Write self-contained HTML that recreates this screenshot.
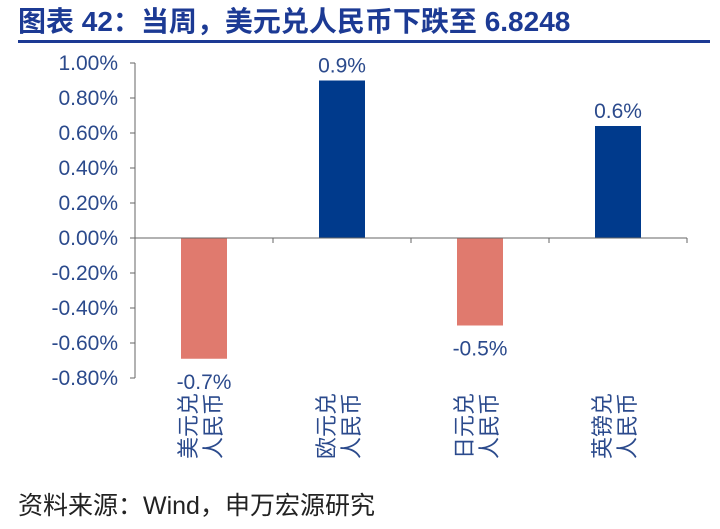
<!DOCTYPE html>
<html><head><meta charset="utf-8"><style>
body{margin:0;width:720px;height:529px;background:#fff;overflow:hidden;font-family:"Liberation Sans","Noto Sans CJK SC",sans-serif;}
</style></head><body>
<svg width="720" height="529" style="position:absolute;left:0;top:0">
<text x="18" y="31" font-size="28" font-weight="bold" fill="#1c3a94" font-family="Liberation Sans, Noto Sans CJK SC, sans-serif">图表 42：当周，美元兑人民币下跌至 6.8248</text>
<rect x="18" y="40" width="692" height="3" fill="#1c3a94"/>
<g id="plot"></g>
<text x="18" y="514" font-size="25" fill="#222">资料来源：Wind，申万宏源研究</text>
</svg>
<script>
const categories=[["美元兑","人民币"],["欧元兑","人民币"],["日元兑","人民币"],["英镑兑","人民币"]];
const values=[-0.69,0.9,-0.5,0.64];
const valueLabels=["-0.7%","0.9%","-0.5%","0.6%"];
const ticks=[1.0,0.8,0.6,0.4,0.2,0,-0.2,-0.4,-0.6,-0.8];
const NS="http://www.w3.org/2000/svg";
const g=document.getElementById('plot');
const x0=135,x1=687,yZero=238,pxPer=175;
const y=v=>yZero-v*pxPer;
const band=(x1-x0)/categories.length;
const cx=i=>x0+band*(i+0.5);
function mk(t,a){const e=document.createElementNS(NS,t);for(const k in a)e.setAttribute(k,a[k]);g.appendChild(e);return e;}
let ax=mk('line',{x1:x0,y1:y(1),x2:x0,y2:y(-0.8),stroke:'#666','stroke-width':1});


ticks.forEach(t=>{
 let tk=mk('line',{x1:x0-5,y1:y(t),x2:x0,y2:y(t),stroke:'#666'});
 
 
 let tl=mk('text',{x:x0-17,y:y(t)+7,'text-anchor':'end','font-size':21,fill:'#2b4a8c'});
 tl.textContent=t.toFixed(2)+'%';
 
 
});
values.forEach((v,i)=>{
 const c=cx(i),w=46;
 let b=mk('rect',{x:c-w/2,y:Math.min(y(v),yZero),width:w,height:Math.abs(y(v)-yZero),fill:v<0?'#e07a6e':'#003a8c'});
 
 
 let l=mk('text',{x:c,y:v<0?y(v)+30:y(v)-8,'text-anchor':'middle','font-size':21,fill:'#2b4a8c'});
 l.textContent=valueLabels[i];
 
 
 categories[i].forEach((s,j)=>{
  const tx=c-14+j*25,ty=426;
  let ct=mk('text',{x:tx,y:ty,'text-anchor':'middle','font-size':22,fill:'#2b4a8c',transform:`rotate(-90 ${tx} ${ty})`,'dominant-baseline':'middle'});
  ct.textContent=s;
  
  
 });
});
let zl=mk('line',{x1:x0,y1:yZero,x2:x1,y2:yZero,stroke:'#666'});


for(let i=0;i<=categories.length;i++){
 let t=mk('line',{x1:x0+band*i,y1:yZero,x2:x0+band*i,y2:yZero+5,stroke:'#666'});
 
 
}
</script>
</body></html>
